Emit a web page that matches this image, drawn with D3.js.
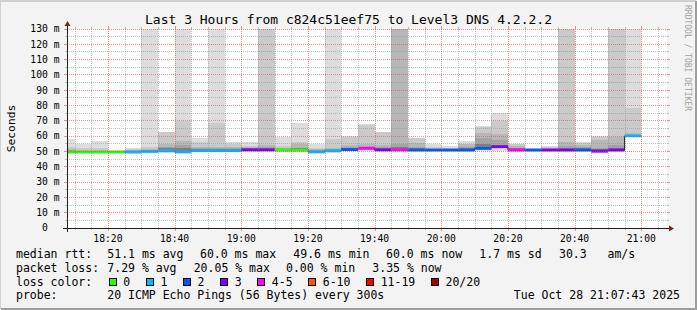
<!DOCTYPE html>
<html><head><meta charset="utf-8">
<script src="https://cdn.jsdelivr.net/npm/d3@7"></script>
<style>
html,body{margin:0;padding:0;background:#f3f3f3;}
svg{display:block;}
text{font-family:"DejaVu Sans Mono",monospace;white-space:pre;}
</style>
</head><body>
<svg id="chart" width="697" height="310"></svg>
<script>
// ---------------- data ----------------
const chartDay = "2025-10-28";
const seriesStart = "18:07:43";
const seriesEnd = "21:07:43";
const intervalEnds = ["18:10","18:15","18:20","18:25","18:30","18:35","18:40","18:45","18:50","18:55",
  "19:00","19:05","19:10","19:15","19:20","19:25","19:30","19:35","19:40","19:45",
  "19:50","19:55","20:00","20:05","20:10","20:15","20:20","20:25","20:30","20:35",
  "20:40","20:45","20:50","20:55","21:00"];
const medianMs = [49.6,49.6,49.6,49.6,49.7,50.0,50.5,49.8,50.5,50.5,
  50.5,51.0,51.0,50.9,50.9,49.8,50.5,51.2,52.0,51.0,
  51.0,50.9,50.9,50.9,50.9,52.0,53.1,50.9,50.9,50.9,
  50.9,50.9,50.2,50.9,60.2];
const lossCount = [0,0,0,0,1,1,1,1,1,1,
  1,3,3,0,0,1,1,2,4,3,
  5,2,2,2,2,2,3,4,2,3,
  3,2,3,3,1];
// smoke (ping distribution), ms; 140 = beyond the top of the graph
const smokeMax = [58,55,57,50.8,52.5,140,63,140,59,140,
  56,56,140,59.6,68.7,54.6,140,60,68,63,
  140,59,54.8,53.5,56.8,66.6,75,55,52.5,53.5,
  140,56,60,140,140];
const smokeP2 = [53,52,52,50.5,51.8,53,62.5,70,56,68.7,
  54.8,53.5,140,53.5,56,52,58,59.5,67.5,62.5,
  140,58.5,52.6,52.5,55,66,70,54.8,52,53.2,
  140,55.8,59.5,140,78.3];
const smokeP3 = [51.5,51,51,50.3,51,51.5,55,57,53,53,
  53,52.8,54.2,52.5,54.8,51.5,52,54,55,54.2,
  140,55.6,52,52,54.8,61.8,61.4,53.5,51.8,52.5,
  56,54,57.5,59.2,62];
const smokeP4 = [50.8,50.5,50.5,50.2,50.5,51,53,54,52,52,
  52,52.5,53,52,52.5,51,51.5,53,53.5,53,
  55.2,53,51.5,51.8,53,58.5,57.5,52.5,51.5,52,
  53.5,53,52.5,54.2,61];
const smokeP5 = [50.2,50.2,50.2,50.1,50.2,50.5,52,52,51.5,51.5,
  51.5,52,52.5,51.5,52,50.5,51,52,53,52,
  53,52,51.3,51.5,52,55.2,54.2,52,51.3,51.5,
  52.5,52,51.5,52.5,60.8];
const smokeLow = [49.3,49.3,49.3,49.3,49.3,49.5,49.8,49.3,50,50,
  50,50.5,50.5,50.3,50.3,49.3,50,50.7,51.5,50.5,
  50.5,50.5,50.5,50.5,50.5,51.5,52,50.5,50.5,50.5,
  50.5,50.5,49.8,50.5,59.8];
const smokeMin = [48.8,49,49,49.2,48.3,49,49.3,48.5,49.5,49.5,
  49.5,50,50,49.5,49.5,48.5,49.3,50,50.5,50,
  50,50,50,50,50,50.5,50.5,50,50,50,
  50,50,49.3,50,59.5];
const smokeColors = ["#dddddd","#cacaca","#b7b7b7","#a4a4a4","#7e7e7e"];
const yTickValues = [0,10,20,30,40,50,60,70,80,90,100,110,120,130];
const yTickLabels = ["0  ","10 m","20 m","30 m","40 m","50 m","60 m","70 m","80 m","90 m","100 m","110 m","120 m","130 m"];
const xTickLabels = ["18:20","18:40","19:00","19:20","19:40","20:00","20:20","20:40","21:00"];
const lossLabels = ["0","1","2","3","4-5","6-10","11-19","20/20"];
const lossUpper = [0,1,2,3,5,10,19,20];
const lossColors = ["#26ff00","#00b8ff","#0059ff","#7e00ff","#ff00ff","#ff5500","#ff0000","#a10000"];
const titleText = "Last 3 Hours from c824c51eef75 to Level3 DNS 4.2.2.2";
const legendRtt = [["median rtt:",16],["51.1 ms avg",107.3],["60.0 ms max",200],["49.6 ms min",293.3],["60.0 ms now",386],["1.7 ms sd",479.3],["30.3   am/s",559]];
const legendLoss = [["packet loss:",16],["7.29 % avg",107.3],["20.05 % max",193.7],["0.00 % min",286],["3.35 % now",372.3]];
const probeText = "20 ICMP Echo Pings (56 Bytes) every 300s";
const stampText = "Tue Oct 28 21:07:43 2025";

// ---------------- drawing ----------------
const svg = d3.select("#chart");
const W = 697, H = 310;
const parseT = d3.timeParse("%Y-%m-%d %H:%M:%S");
const t0 = parseT(`${chartDay} ${seriesStart}`);
const t1 = parseT(`${chartDay} ${seriesEnd}`);
const ends = intervalEnds.map(s => parseT(`${chartDay} ${s}:00`));
const X0 = 67, X1 = 667, Y0 = 228, Y1 = 29;
const x = d3.scaleTime().domain([t0, t1]).range([X0, X1]);
const y = d3.scaleLinear().domain([0, 130]).range([Y0, Y1]);

// background & frame
svg.append("rect").attr("width", W).attr("height", H).attr("fill", "#f3f3f3");
svg.append("path").attr("d", `M0,${H-1}V1H${W-1}`).attr("stroke", "#cfcfcf").attr("stroke-width", 2).attr("fill", "none");
svg.append("path").attr("d", `M1,${H-1}H${W-1}V1`).attr("stroke", "#9e9e9e").attr("stroke-width", 2).attr("fill", "none");
svg.append("rect").attr("x", X0).attr("y", Y1).attr("width", X1 - X0).attr("height", Y0 - Y1).attr("fill", "#ffffff");

svg.append("clipPath").attr("id", "plotclip").append("rect")
  .attr("x", X0).attr("y", Y1).attr("width", X1 - X0).attr("height", Y0 - Y1);
const plot = svg.append("g").attr("clip-path", "url(#plotclip)");

const intervals = ends.map((e, i) => {
  const s = d3.timeMinute.offset(e, -5);
  return {i, start: s < t0 ? t0 : s, end: e};
});

const bands = [
  [smokeMin, smokeMax], [smokeLow, smokeP2], [smokeLow, smokeP3], [smokeLow, smokeP4], [smokeLow, smokeP5]
];
bands.forEach(([lo, hi], k) => {
  plot.append("g").selectAll("rect").data(intervals).join("rect")
    .attr("x", d => x(d.start))
    .attr("width", d => x(d.end) - x(d.start))
    .attr("y", d => y(hi[d.i]))
    .attr("height", d => y(lo[d.i]) - y(hi[d.i]))
    .attr("fill", smokeColors[k])
    .attr("shape-rendering", "crispEdges");
});

// median line (dark step) then loss-coloured bands
const stepPts = [];
intervals.forEach(d => { stepPts.push([x(d.start), y(medianMs[d.i])]); stepPts.push([x(d.end), y(medianMs[d.i])]); });
plot.append("path").attr("d", d3.line()(stepPts)).attr("fill", "none").attr("stroke", "#202020").attr("stroke-width", 1);
const lossColor = n => lossColors[lossUpper.findIndex(u => n <= u)];
plot.append("g").selectAll("rect").data(intervals).join("rect")
  .attr("x", d => x(d.start))
  .attr("width", d => x(d.end) - x(d.start))
  .attr("y", d => y(medianMs[d.i]) - 1.4)
  .attr("height", 2.8)
  .attr("fill", d => lossColor(lossCount[d.i]));

// grid
const gridMinor = "rgba(143,143,143,0.55)";
const gridMajor = "rgba(222,79,79,0.6)";
const px = v => Math.round(v) + 0.5;
const minorTimes = d3.timeMinute.every(5).range(t0, t1).filter(t => t.getMinutes() % 20 !== 0);
const majorTimes = xTickLabels.map(s => parseT(`${chartDay} ${s}:00`));
const g = svg.append("g");
minorTimes.forEach(t => {
  const xx = px(x(t));
  g.append("line").attr("x1", xx).attr("x2", xx).attr("y1", Y1).attr("y2", Y0).attr("stroke", gridMinor).attr("stroke-dasharray", "1,1");
  g.append("line").attr("x1", xx).attr("x2", xx).attr("y1", Y0).attr("y2", Y0 + 2).attr("stroke", gridMinor);
  g.append("line").attr("x1", xx).attr("x2", xx).attr("y1", Y1 - 2).attr("y2", Y1).attr("stroke", gridMinor);
});
majorTimes.forEach(t => {
  const xx = px(x(t));
  g.append("line").attr("x1", xx).attr("x2", xx).attr("y1", Y1).attr("y2", Y0).attr("stroke", gridMajor).attr("stroke-dasharray", "1,1");
  g.append("line").attr("x1", xx).attr("x2", xx).attr("y1", Y0).attr("y2", Y0 + 3).attr("stroke", gridMajor);
  g.append("line").attr("x1", xx).attr("x2", xx).attr("y1", Y1 - 3).attr("y2", Y1).attr("stroke", gridMajor);
});
d3.range(5, 130, 10).forEach(v => {
  const yy = px(y(v) - 0.5);
  g.append("line").attr("x1", X0).attr("x2", X1).attr("y1", yy).attr("y2", yy).attr("stroke", gridMinor).attr("stroke-dasharray", "1,1");
  g.append("line").attr("x1", X0 - 2).attr("x2", X0).attr("y1", yy).attr("y2", yy).attr("stroke", gridMinor);
  g.append("line").attr("x1", X1).attr("x2", X1 + 2).attr("y1", yy).attr("y2", yy).attr("stroke", gridMinor);
});
yTickValues.filter(v => v > 0).forEach(v => {
  const yy = px(y(v) - 0.5);
  g.append("line").attr("x1", X0).attr("x2", X1).attr("y1", yy).attr("y2", yy).attr("stroke", gridMajor).attr("stroke-dasharray", "1,1");
  g.append("line").attr("x1", X0 - 3).attr("x2", X0).attr("y1", yy).attr("y2", yy).attr("stroke", gridMajor);
  g.append("line").attr("x1", X1).attr("x2", X1 + 3).attr("y1", yy).attr("y2", yy).attr("stroke", gridMajor);
});

// axes
svg.append("line").attr("x1", X0 - 4).attr("x2", X1 + 2).attr("y1", Y0 + 0.5).attr("y2", Y0 + 0.5).attr("stroke", "#1f1f1f");
svg.append("line").attr("x1", X0 + 0.5).attr("x2", X0 + 0.5).attr("y1", Y0 + 4).attr("y2", Y1 - 3).attr("stroke", "#1f1f1f");
svg.append("path").attr("d", `M${X0+0.5},${Y1-8}L${X0-2.5},${Y1-3}L${X0+3.5},${Y1-3}Z`).attr("fill", "#7f1f1f");
svg.append("path").attr("d", `M${X1+7},${Y0+0.5}L${X1+2},${Y0-2.5}L${X1+2},${Y0+3.5}Z`).attr("fill", "#7f1f1f");

// axis labels
const axisFont = "9.7px";
svg.append("g").selectAll("text").data(yTickValues).join("text")
  .attr("x", 59.5).attr("y", v => y(v) + 3.3)
  .attr("text-anchor", "end").attr("font-size", axisFont).attr("fill", "#000")
  .text((v, i) => yTickLabels[i]);
svg.append("g").selectAll("text").data(majorTimes).join("text")
  .attr("x", t => x(t)).attr("y", 242)
  .attr("text-anchor", "middle").attr("font-size", axisFont).attr("fill", "#000")
  .text((t, i) => xTickLabels[i]);

// title, vertical label, watermark
svg.append("text").attr("x", 348.5).attr("y", 24).attr("text-anchor", "middle").attr("font-size", "13px").text(titleText);
svg.append("text").attr("transform", `translate(14.5,${(Y0+Y1)/2}) rotate(-90)`).attr("text-anchor", "middle").attr("font-size", "11.3px").text("Seconds");
svg.append("text").attr("transform", "translate(685,5) rotate(90)").attr("font-size", "8px").attr("fill", "#a0a0a0").text("RRDTOOL / TOBI OETIKER");

// legend
const legFont = "11.5px";
const charW = 11.5 * 0.602;
const rows = [258.3, 271.9, 285.5, 299.1];
legendRtt.forEach(([t, lx]) => svg.append("text").attr("x", lx).attr("y", rows[0]).attr("font-size", legFont).text(t));
legendLoss.forEach(([t, lx]) => svg.append("text").attr("x", lx).attr("y", rows[1]).attr("font-size", legFont).text(t));
svg.append("text").attr("x", 16).attr("y", rows[2]).attr("font-size", legFont).text("loss color:");
let bx = 108.7;
lossLabels.forEach((lab, i) => {
  svg.append("rect").attr("x", Math.round(bx) + 0.5).attr("y", rows[2] - 7).attr("width", 7).attr("height", 7)
    .attr("fill", lossColors[i]).attr("stroke", "#000").attr("stroke-width", 1);
  svg.append("text").attr("x", bx + 14.6).attr("y", rows[2]).attr("font-size", legFont).text(lab);
  bx = bx + 14.6 + lab.length * charW + 15.6;
});
svg.append("text").attr("x", 16).attr("y", rows[3]).attr("font-size", legFont).text("probe:");
svg.append("text").attr("x", 107.3).attr("y", rows[3]).attr("font-size", legFont).text(probeText);
svg.append("text").attr("x", 680).attr("y", rows[3]).attr("text-anchor", "end").attr("font-size", legFont).text(stampText);
</script>
</body></html>
